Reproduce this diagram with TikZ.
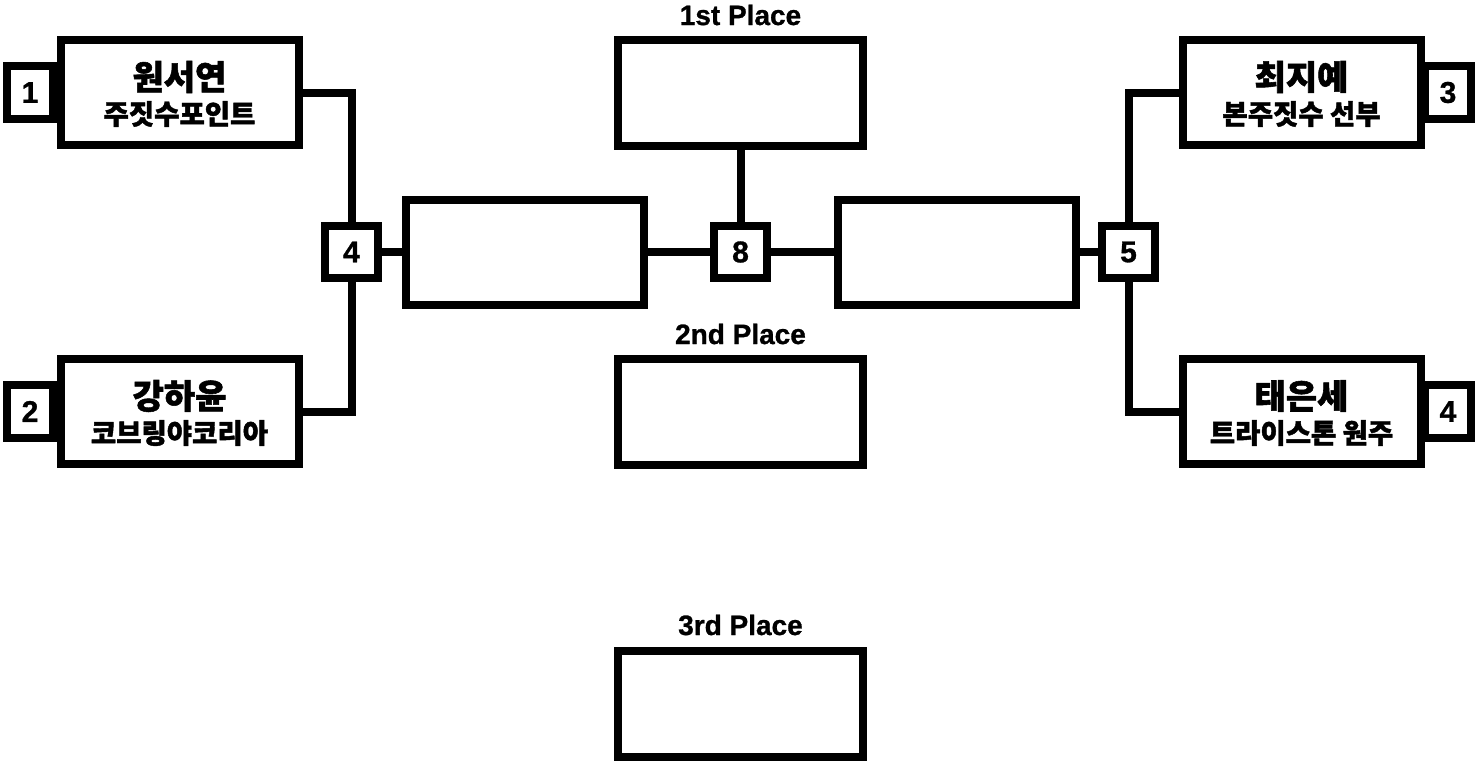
\documentclass[tikz,border=0pt]{standalone}
\usepackage{fontspec}
\newfontfamily\krfont{Noto Sans CJK KR}[BoldFeatures={FakeBold=1.6}]
\newfontfamily\lsfont{Liberation Sans}[BoldFeatures={FakeBold=1.0}]
\tikzset{
  box/.style={draw, line width=8pt, inner sep=0pt, outer sep=0pt, minimum width=238pt, minimum height=105pt},
  placebox/.style={box, minimum width=245pt, minimum height=106pt},
  seedbox/.style={draw, line width=8pt, inner sep=0pt, outer sep=0pt, minimum width=46pt, minimum height=53pt, font=\lsfont\bfseries\fontsize{30}{30}\selectfont},
  roundbox/.style={draw, line width=8pt, inner sep=0pt, outer sep=0pt, minimum width=53pt, minimum height=52pt, font=\lsfont\bfseries\fontsize{30}{30}\selectfont},
  namet/.style={inner sep=0pt, font=\krfont\bfseries\fontsize{34}{38}\selectfont},
  subt/.style={inner sep=0pt, font=\krfont\bfseries\fontsize{27.5}{30}\selectfont},
  placet/.style={inner sep=0pt, font=\lsfont\bfseries\fontsize{28}{30}\selectfont},
  wire/.style={line width=8pt, line join=miter}
}
\begin{document}
\begin{tikzpicture}[x=1pt,y=-1pt]
\useasboundingbox (0,0) rectangle (1477,764);
% player boxes
\node[box] (p1) at (179.5,92.5) {};
\node[box] (p2) at (179.5,411.5) {};
\node[box] (p3) at (1301.5,92.5) {};
\node[box] (p4) at (1301.5,411.5) {};
% seeds
\node[seedbox] (s1) at (30,92.5) {1};
\node[seedbox] (s2) at (30,411.5) {2};
\node[seedbox] (s3) at (1448,92.5) {3};
\node[seedbox] (s4) at (1448,411.5) {4};
% names
\node[namet] (p1a) at ([yshift=15.5pt]p1.center) {원서연};
\node[subt]  (p1b) at ([yshift=-21.5pt]p1.center) {주짓수포인트};
\node[namet] (p2a) at ([yshift=15.5pt]p2.center) {강하윤};
\node[subt]  (p2b) at ([yshift=-21.5pt]p2.center) {코브링야코리아};
\node[namet] (p3a) at ([yshift=15.5pt]p3.center) {최지예};
\node[subt]  (p3b) at ([yshift=-21.5pt]p3.center) {본주짓수 선부};
\node[namet] (p4a) at ([yshift=15.5pt]p4.center) {태은세};
\node[subt]  (p4b) at ([yshift=-21.5pt]p4.center) {트라이스톤 원주};
% round boxes
\node[roundbox] (q1) at (351.5,252) {4};
\node[roundbox] (f)  at (740.5,252) {8};
\node[roundbox] (q2) at (1128.5,252) {5};
% middle boxes
\node[box] (m1) at (525,252) {};
\node[box] (m2) at (956.5,252) {};
% place boxes
\node[placebox] (first)  at (740.5,93) {};
\node[placebox] (second) at (740.5,411.5) {};
\node[placebox] (third)  at (740.5,703.5) {};
\node[placet] (l1) at (740.5,15) {1st Place};
\node[placet] (l2) at (740.5,334) {2nd Place};
\node[placet] (l3) at (740.5,625) {3rd Place};
% connectors
\draw[wire] (p1.east) -| (q1.north);
\draw[wire] (p2.east) -| (q1.south);
\draw[wire] (q1.east) -- (m1.west);
\draw[wire] (m1.east) -- (f.west);
\draw[wire] (f.east) -- (m2.west);
\draw[wire] (m2.east) -- (q2.west);
\draw[wire] (p3.west) -| (q2.north);
\draw[wire] (p4.west) -| (q2.south);
\draw[wire] (first.south) -- (f.north);
\end{tikzpicture}
\end{document}
